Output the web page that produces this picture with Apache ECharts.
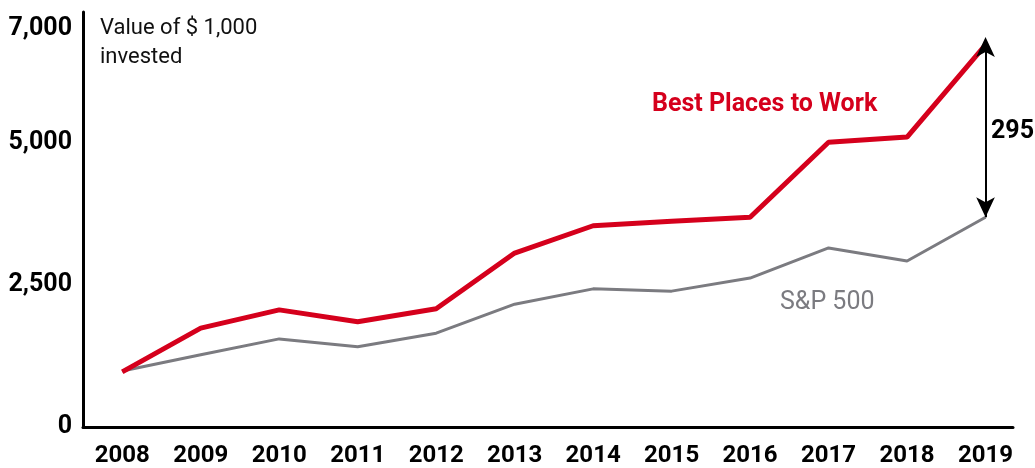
<!DOCTYPE html>
<html>
<head>
<meta charset="utf-8">
<script src="https://cdn.jsdelivr.net/npm/echarts@6/dist/echarts.min.js"></script>
<style>
    html, body { margin: 0; padding: 0; background: #fff; }
    #chart { width: 1035px; height: 468px; }
</style>
</head>
<body>
<div id="chart"></div>
<script>
    // data
    const years = [2008, 2009, 2010, 2011, 2012, 2013, 2014, 2015, 2016, 2017, 2018, 2019];
    const bestPlaces = [970, 1740, 2060, 1850, 2080, 3060, 3540, 3620, 3690, 5010, 5100, 6720];
    const sp500 = [985, 1270, 1550, 1410, 1650, 2160, 2430, 2390, 2620, 3150, 2920, 3690];
    const yTicks = [0, 2500, 5000, 7000];
    const gapLabel = '295';

    const red = '#d5001c';
    const grey = '#7b7b80';
    const font = 'Roboto, "Noto Sans", sans-serif';

    const chart = echarts.init(document.getElementById('chart'));

    const option = {
        animation: false,
        backgroundColor: '#fff',
        grid: {
            left: 83,
            right: 22,
            top: 12,
            bottom: 41,
            containLabel: false,
            outerBoundsMode: 'none'
        },
        xAxis: {
            type: 'value',
            min: 2007.5,
            max: 2019.35,
            splitLine: { show: false },
            axisTick: { show: false },
            axisLine: { show: true, onZero: false, lineStyle: { color: '#000', width: 3 } },
            axisLabel: {
                customValues: years,
                formatter: v => String(v),
                color: '#000',
                fontFamily: font,
                fontWeight: 'bold',
                fontSize: 24,
                margin: 17
            }
        },
        yAxis: {
            type: 'value',
            min: 0,
            max: 7300,
            splitLine: { show: false },
            axisTick: { show: false },
            axisLine: { show: true, onZero: false, lineStyle: { color: '#000', width: 3 } },
            axisLabel: {
                customValues: yTicks,
                formatter: v => v.toLocaleString('en-US'),
                color: '#000',
                fontFamily: font,
                fontWeight: 'bold',
                fontSize: 25,
                margin: 11
            }
        },
        series: [{
            name: 'S&P 500',
            type: 'line',
            data: years.map((y, i) => [y, sp500[i]]),
            symbol: 'none',
            lineStyle: { color: grey, width: 3 },
            z: 2,
            markLine: {
                silent: true,
                symbol: ['arrow', 'arrow'],
                symbolSize: [14, 20],
                lineStyle: { color: '#000', width: 2, type: 'solid' },
                label: { show: false },
                data: [[
                    { coord: [years[11], sp500[11]] },
                    { coord: [years[11], bestPlaces[11]], symbolOffset: [0, -8] }
                ]]
            }
        }, {
            name: 'Best Places to Work',
            type: 'line',
            data: years.map((y, i) => [y, bestPlaces[i]]),
            symbol: 'none',
            lineStyle: { color: red, width: 5 },
            z: 3
        }],
        graphic: [{
            type: 'text',
            left: 100,
            top: 14,
            style: {
                text: 'Value of $ 1,000\ninvested',
                fill: '#111',
                font: '22px ' + font,
                lineHeight: 29
            }
        }, {
            type: 'text',
            left: 652,
            top: 92,
            style: {
                text: 'Best Places to Work',
                fill: red,
                font: 'bold 25px ' + font
            }
        }, {
            type: 'text',
            left: 780,
            top: 290,
            style: {
                text: 'S&P 500',
                fill: grey,
                font: '25px ' + font
            }
        }, {
            type: 'text',
            left: 991,
            top: 119,
            style: {
                text: gapLabel,
                fill: '#000',
                font: 'bold 25px ' + font
            }
        }]
    };

    chart.setOption(option);
</script>
</body>
</html>
